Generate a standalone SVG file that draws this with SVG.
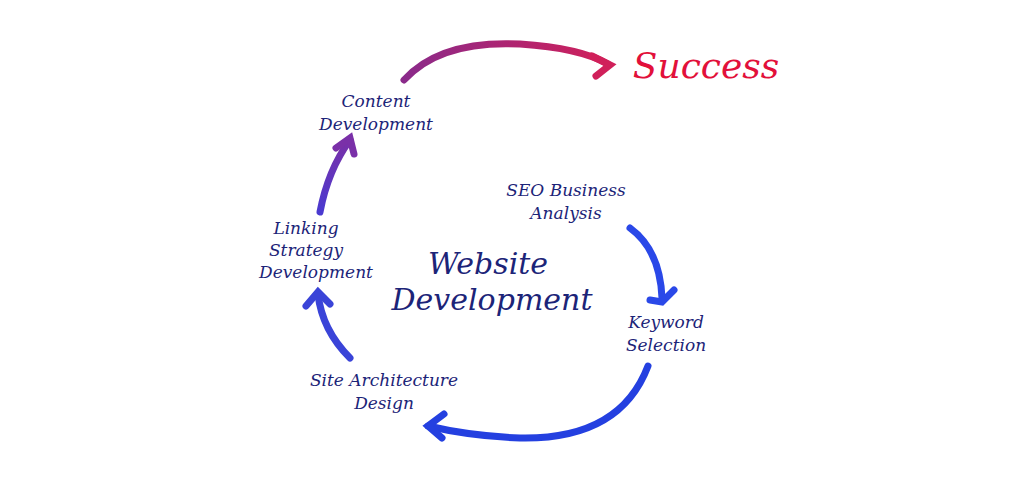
<svg xmlns="http://www.w3.org/2000/svg" width="1024" height="502" viewBox="0 0 1024 502">
<defs>
<style>
.t{font-family:"DejaVu Serif","Liberation Serif",serif;font-style:italic;fill:#1c2478;font-size:17px;text-anchor:middle}
.big{font-size:30px}
.a{fill:none;stroke-width:7;stroke-linecap:round}
</style>
<linearGradient id="g1" x1="0" y1="0" x2="1" y2="0"><stop offset="0" stop-color="#8a2a8a"/><stop offset="1" stop-color="#d0205a"/></linearGradient>
<linearGradient id="g2" x1="0" y1="1" x2="0" y2="0"><stop offset="0" stop-color="#4a3ad0"/><stop offset="1" stop-color="#7a30a8"/></linearGradient>
</defs>
<rect width="1024" height="502" fill="#ffffff"/>
<g id="connectors">
<path class="a" stroke="#2a48e8" d="M630,228 Q660,250 662,298"/>
<path class="a" stroke="#2a48e8" d="M650,300 L662,302 L674,290"/>
<path class="a" stroke="#2440e0" d="M648,366 Q620,440 520,438 Q470,436 428,426"/>
<path class="a" stroke="#2440e0" d="M444,414 L428,426 L442,438"/>
<path class="a" stroke="#3a44d8" d="M350,358 Q322,330 318,294"/>
<path class="a" stroke="#3a44d8" d="M306,306 L318,292 L330,304"/>
<path class="a" stroke="url(#g2)" d="M320,212 Q328,170 350,140"/>
<path class="a" stroke="#7a30a8" d="M336,148 L350,138 L354,154"/>
<path class="a" stroke="url(#g1)" d="M404,80 Q440,40 520,44 Q580,48 608,64"/>
<path class="a" stroke="#d0205a" d="M592,56 L610,65 L596,76"/>
</g>
<g id="success"><text class="t big" x="706" y="78" style="fill:#e2103a;font-size:36px">Success</text></g>
<g id="content"><text class="t" x="376" y="107">Content</text><text class="t" x="376" y="130">Development</text></g>
<g id="seo"><text class="t" x="566" y="196">SEO Business</text><text class="t" x="566" y="219">Analysis</text></g>
<g id="linking"><text class="t" x="306" y="234">Linking</text><text class="t" x="306" y="256">Strategy</text><text class="t" x="316" y="278">Development</text></g>
<g id="center"><text class="t big" x="488" y="274">Website</text><text class="t big" x="492" y="310">Development</text></g>
<g id="keyword"><text class="t" x="666" y="328">Keyword</text><text class="t" x="666" y="351">Selection</text></g>
<g id="site"><text class="t" x="384" y="386">Site Architecture</text><text class="t" x="384" y="409">Design</text></g>
</svg>
